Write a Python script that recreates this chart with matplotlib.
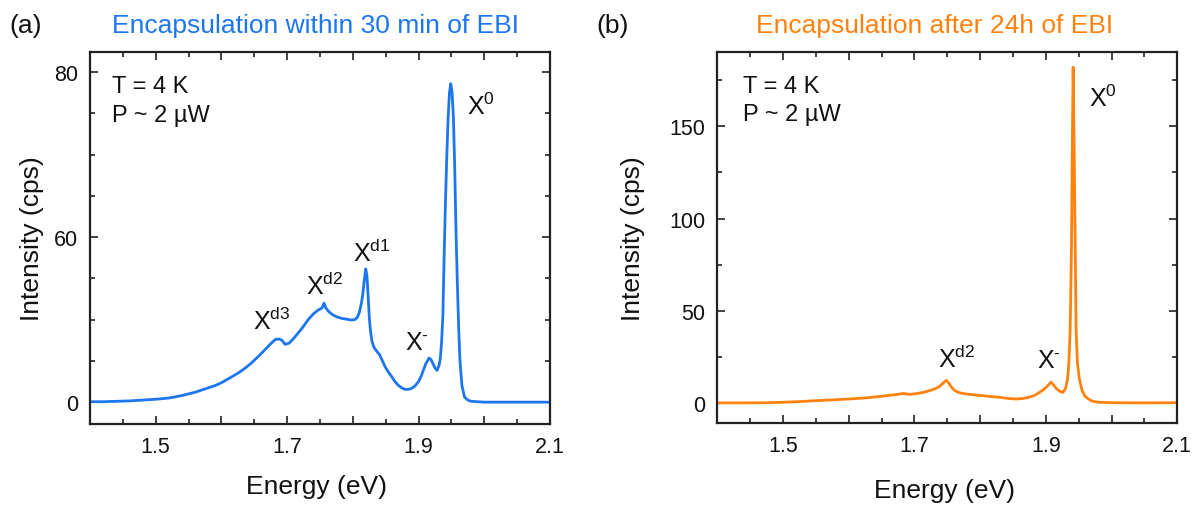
import matplotlib
matplotlib.use("Agg")
import matplotlib.pyplot as plt
from matplotlib.ticker import MultipleLocator, FixedLocator, FixedFormatter

plt.rcParams['font.family'] = ['Liberation Sans', 'DejaVu Sans']
plt.rcParams['mathtext.fontset'] = 'custom'
plt.rcParams['mathtext.rm'] = 'Liberation Sans'
plt.rcParams['mathtext.it'] = 'Liberation Sans'
plt.rcParams['mathtext.bf'] = 'Liberation Sans'

# ---------------- data ----------------
energy_a = [1.400, 1.420, 1.440, 1.460, 1.480, 1.500, 1.520, 1.540, 1.550, 1.560,
            1.575, 1.590, 1.600, 1.612, 1.625, 1.635, 1.645, 1.655, 1.665, 1.674,
            1.682, 1.688, 1.692, 1.697, 1.703, 1.709, 1.716, 1.725, 1.732, 1.740,
            1.747, 1.753, 1.756, 1.759, 1.763, 1.769, 1.775, 1.783, 1.791, 1.797,
            1.803, 1.807, 1.810, 1.813, 1.815, 1.817, 1.8196, 1.8215, 1.8235, 1.825,
            1.827, 1.829, 1.832, 1.836, 1.841, 1.845, 1.849, 1.854, 1.859, 1.864,
            1.869, 1.874, 1.879, 1.885, 1.890, 1.895, 1.900, 1.904, 1.907, 1.911,
            1.916, 1.919, 1.922, 1.925, 1.928, 1.931, 1.933, 1.935, 1.937, 1.939,
            1.941, 1.943, 1.945, 1.947, 1.949, 1.951, 1.953, 1.955, 1.957, 1.959,
            1.961, 1.963, 1.966, 1.970, 1.975, 1.980, 1.990, 2.000, 2.020, 2.040,
            2.060, 2.080, 2.100]
intensity_a = [0.1, 0.1, 0.2, 0.3, 0.5, 0.7, 1.0, 1.6, 2.0, 2.4,
               3.2, 4.0, 4.7, 5.8, 7.0, 8.1, 9.4, 10.9, 12.5, 14.0,
               15.2, 15.3, 15.0, 14.0, 14.3, 15.3, 16.6, 18.4, 20.0, 21.4,
               22.3, 22.8, 24.0, 22.8, 22.0, 21.2, 20.7, 20.3, 20.1, 19.9,
               20.0, 20.6, 21.8, 24.0, 26.0, 29.0, 32.3, 30.5, 25.0, 20.5,
               17.0, 14.8, 13.3, 12.4, 11.4, 10.0, 8.6, 7.3, 6.2, 5.0,
               4.1, 3.5, 3.1, 3.1, 3.4, 4.0, 5.0, 6.3, 7.6, 9.3,
               10.7, 10.3, 9.3, 8.3, 7.7, 8.8, 10.5, 14.5, 21.0, 36.0,
               49.0, 60.0, 69.0, 75.0, 77.2, 75.0, 69.0, 57.0, 41.0, 29.0,
               18.0, 10.0, 4.0, 1.2, 0.5, 0.2, 0.1, 0.0, 0.0, 0.0,
               0.0, 0.0, 0.0]

energy_b = [1.400, 1.440, 1.480, 1.520, 1.550, 1.580, 1.605, 1.630, 1.655, 1.672,
            1.683, 1.692, 1.703, 1.715, 1.728, 1.736, 1.741, 1.745, 1.7486, 1.752,
            1.756, 1.761, 1.766, 1.772, 1.779, 1.790, 1.804, 1.817, 1.830, 1.843,
            1.855, 1.865, 1.875, 1.883, 1.890, 1.896, 1.901, 1.905, 1.908, 1.912,
            1.916, 1.921, 1.926, 1.930, 1.933, 1.935, 1.937, 1.939, 1.940, 1.9415,
            1.943, 1.9445, 1.946, 1.948, 1.951, 1.955, 1.959, 1.964, 1.969, 1.975,
            1.982, 2.000, 2.050, 2.100]
intensity_b = [0.2, 0.2, 0.3, 0.8, 1.4, 1.9, 2.4, 3.0, 4.0, 4.7,
               5.3, 4.8, 5.2, 6.0, 7.4, 8.6, 10.0, 11.4, 12.4, 11.0,
               8.8, 7.0, 6.0, 5.4, 5.0, 4.6, 4.1, 3.6, 3.2, 2.6,
               2.3, 2.6, 3.3, 4.3, 5.8, 7.3, 8.8, 10.4, 11.4, 9.8,
               7.9, 6.5, 5.9, 8.0, 13.0, 22.0, 40.0, 85.0, 130.0, 182.0,
               140.0, 90.0, 40.0, 22.0, 13.0, 7.0, 4.1, 2.5, 1.4, 0.8,
               0.5, 0.3, 0.2, 0.3]

titles = ["Encapsulation within 30 min of EBI", "Encapsulation after 24h of EBI"]
panel_tags = ["(a)", "(b)"]
xtick_values = [1.4, 1.5, 1.6, 1.7, 1.8, 1.9, 2.0, 2.1]
xtick_labels = ["", "1.5", "", "1.7", "", "1.9", "", "2.1"]
ytick_values_a = [0, 40, 80]
ytick_labels_a = ["0", "60", "80"]
ytick_values_b = [0, 50, 100, 150]
ytick_labels_b = ["0", "50", "100", "150"]
peaks_a = [r"X$^{\mathrm{0}}$", r"X$^{\mathrm{d1}}$", r"X$^{\mathrm{d2}}$",
           r"X$^{\mathrm{d3}}$", r"X$^{\text{-}}$"]
peaks_b = [r"X$^{\mathrm{0}}$", r"X$^{\mathrm{d2}}$", r"X$^{\text{-}}$"]

blue = "#1c76ee"
orange = "#ff820f"
W, H = 1203, 506

fig = plt.figure(figsize=(W / 100, H / 100), dpi=100)
ax_a = fig.add_axes([90 / W, (H - 425) / H, 460 / W, 371.7 / H])
ax_b = fig.add_axes([717.3 / W, (H - 424) / H, 460 / W, 371.3 / H])


def style(ax, yvals, ylabels, yminor):
    ax.set_xlim(1.4, 2.1)
    ax.xaxis.set_major_locator(FixedLocator(xtick_values))
    ax.xaxis.set_major_formatter(FixedFormatter(xtick_labels))
    ax.xaxis.set_minor_locator(MultipleLocator(0.05))
    ax.yaxis.set_major_locator(FixedLocator(yvals))
    ax.yaxis.set_major_formatter(FixedFormatter(ylabels))
    ax.yaxis.set_minor_locator(MultipleLocator(yminor))
    ax.tick_params(which='both', direction='in', top=True, right=True,
                   color='#222222', labelsize=15.5, labelcolor='#111111')
    ax.tick_params(which='major', length=5.5, width=1.2, pad=8.5)
    ax.tick_params(which='minor', length=3.5, width=1.2)
    for sp in ax.spines.values():
        sp.set_linewidth(1.6)
        sp.set_color('#222222')


ax_a.plot(energy_a, intensity_a, color=blue, lw=2.0, solid_joinstyle='round')
ax_a.set_ylim(-5.3, 84.8)
style(ax_a, ytick_values_a, ytick_labels_a, 10)

ax_b.plot(energy_b, intensity_b, color=orange, lw=2.0, solid_joinstyle='round')
ax_b.set_ylim(-10.7, 190.4)
style(ax_b, ytick_values_b, ytick_labels_b, 25)

# annotation text
for ax, tx in [(ax_a, 0.047), (ax_b, 0.055)]:
    ax.text(tx, 0.892, "T = 4 K", transform=ax.transAxes, fontsize=17,
            va='baseline', ha='left', color='#111111')
    ax.text(tx, 0.816, "P ~ 2 \u00b5W", transform=ax.transAxes, fontsize=17,
            va='baseline', ha='left', color='#111111')

pos_a = [(1.973, 69.9), (1.8007, 34.3), (1.728, 26.3), (1.648, 17.8), (1.879, 12.9)]
for lab, (x, y) in zip(peaks_a, pos_a):
    ax_a.text(x, y, lab, fontsize=18, va='baseline', ha='left', color='#111111')
pos_b = [(1.965, 160.8), (1.736, 19.5), (1.887, 19.5)]
for lab, (x, y) in zip(peaks_b, pos_b):
    ax_b.text(x, y, lab, fontsize=18, va='baseline', ha='left', color='#111111')

# axis labels
fig.text(32.0 / W, 1 - 239 / H, "Intensity (cps)", rotation=90, ha='center',
         va='center', fontsize=19, color='#111111')
fig.text(632.7 / W, 1 - 239 / H, "Intensity (cps)", rotation=90, ha='center',
         va='center', fontsize=19, color='#111111')
fig.text(316 / W, 1 - 487 / H, "Energy (eV)", ha='center', va='center',
         fontsize=19, color='#111111')
fig.text(944 / W, 1 - 491 / H, "Energy (eV)", ha='center', va='center',
         fontsize=19, color='#111111')

# titles and tags
fig.text(316 / W, 1 - 33 / H, titles[0], ha='center', va='baseline',
         fontsize=19, color=blue)
fig.text(934.6 / W, 1 - 33 / H, titles[1], ha='center', va='baseline',
         fontsize=19, color=orange)
fig.text(9 / W, 1 - 33 / H, panel_tags[0], ha='left', va='baseline',
         fontsize=19, color='#111111')
fig.text(596 / W, 1 - 33 / H, panel_tags[1], ha='left', va='baseline',
         fontsize=19, color='#111111')

fig.savefig("out.png", dpi=100, facecolor='white')
